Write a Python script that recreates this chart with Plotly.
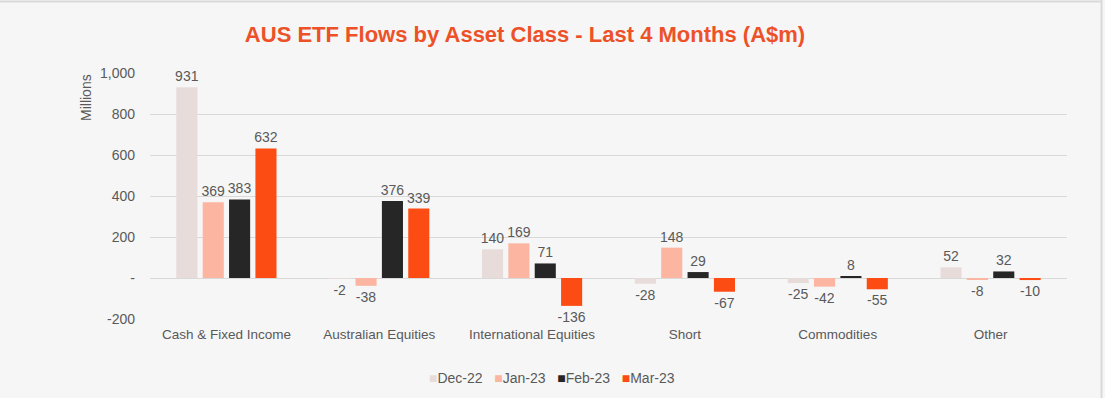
import plotly.graph_objects as go

categories = ["Cash & Fixed Income", "Australian Equities", "International Equities", "Short", "Commodities", "Other"]
series_names = ["Dec-22", "Jan-23", "Feb-23", "Mar-23"]
dec22 = [931, -2, 140, -28, -25, 52]
jan23 = [369, -38, 169, 148, -42, -8]
feb23 = [383, 376, 71, 29, 8, 32]
mar23 = [632, 339, -136, -67, -55, -10]
tick_vals = [-200, 0, 200, 400, 600, 800, 1000]
tick_text = ["-200", "-", "200", "400", "600", "800", "1,000"]

colors = ["#e8dcdb", "#fbb5a1", "#262626", "#fc4c13"]
values = [dec22, jan23, feb23, mar23]
FONT = "Liberation Sans, Arial"
GREY = "#595959"

fig = go.Figure()
for name, vals, col in zip(series_names, values, colors):
    fig.add_trace(go.Bar(
        x=categories, y=vals, name=name,
        marker=dict(color=col, line=dict(width=0)),
        text=[str(v) for v in vals], textposition="outside", constraintext="none",
        textfont=dict(size=14, color=GREY, family=FONT),
        cliponaxis=False,
    ))

W, H = 1105, 398
L, R, T, B = 150, 38, 73, 79
pw, ph = W - L - R, H - T - B
def px(x): return (x - L) / pw
def py(y): return (H - B - y) / ph

legend_text = "&nbsp;&nbsp;&nbsp;".join(
    f"<span style='color:{c}'>■</span>{n}" for n, c in zip(series_names, colors))

fig.update_layout(
    width=W, height=H,
    margin=dict(l=L, r=R, t=T, b=B, autoexpand=False),
    paper_bgcolor="#f6f6f6", plot_bgcolor="#f6f6f6",
    font=dict(family=FONT, color=GREY, size=14),
    title=dict(text="<b>AUS ETF Flows by Asset Class - Last 4 Months (A$m)</b>",
               x=525 / W, xanchor="center", xref="container", y=1 - 34 / H, yref="container", yanchor="middle",
               font=dict(size=22, color="#ed5128")),
    barmode="group", bargap=0.31, bargroupgap=0.2,
    showlegend=False,
    xaxis=dict(showgrid=False, showline=False, ticks="", tickfont=dict(size=13.5, color=GREY),
               ticklabelstandoff=5),
    yaxis=dict(range=[-200, 1000], tickvals=tick_vals, ticktext=tick_text,
               showgrid=True, gridcolor="#d9d9d9", gridwidth=1,
               zeroline=True, zerolinecolor="#d9d9d9", zerolinewidth=1,
               tickfont=dict(size=14, color=GREY), ticklabelstandoff=14),
    annotations=[
        dict(text="Millions", textangle=-90, xref="paper", yref="paper",
             x=px(86), y=py(98), xanchor="center", yanchor="middle", showarrow=False,
             font=dict(size=14, color=GREY)),
        dict(text=legend_text, xref="paper", yref="paper", x=px(552), y=py(378),
             xanchor="center", yanchor="middle", showarrow=False,
             font=dict(size=14, color=GREY)),
    ],
    shapes=[
        dict(type="line", xref="paper", yref="paper", x0=px(0), x1=px(1102), y0=py(1.5), y1=py(1.5),
             line=dict(color="#d9d9d9", width=2)),
        dict(type="line", xref="paper", yref="paper", x0=px(1101.5), x1=px(1101.5), y0=py(0), y1=py(398),
             line=dict(color="#d9d9d9", width=2)),
    ],
)

fig.write_html("out.html", config={"displayModeBar": False},
               post_script="document.body.style.margin='0';document.body.style.overflow='hidden';")
